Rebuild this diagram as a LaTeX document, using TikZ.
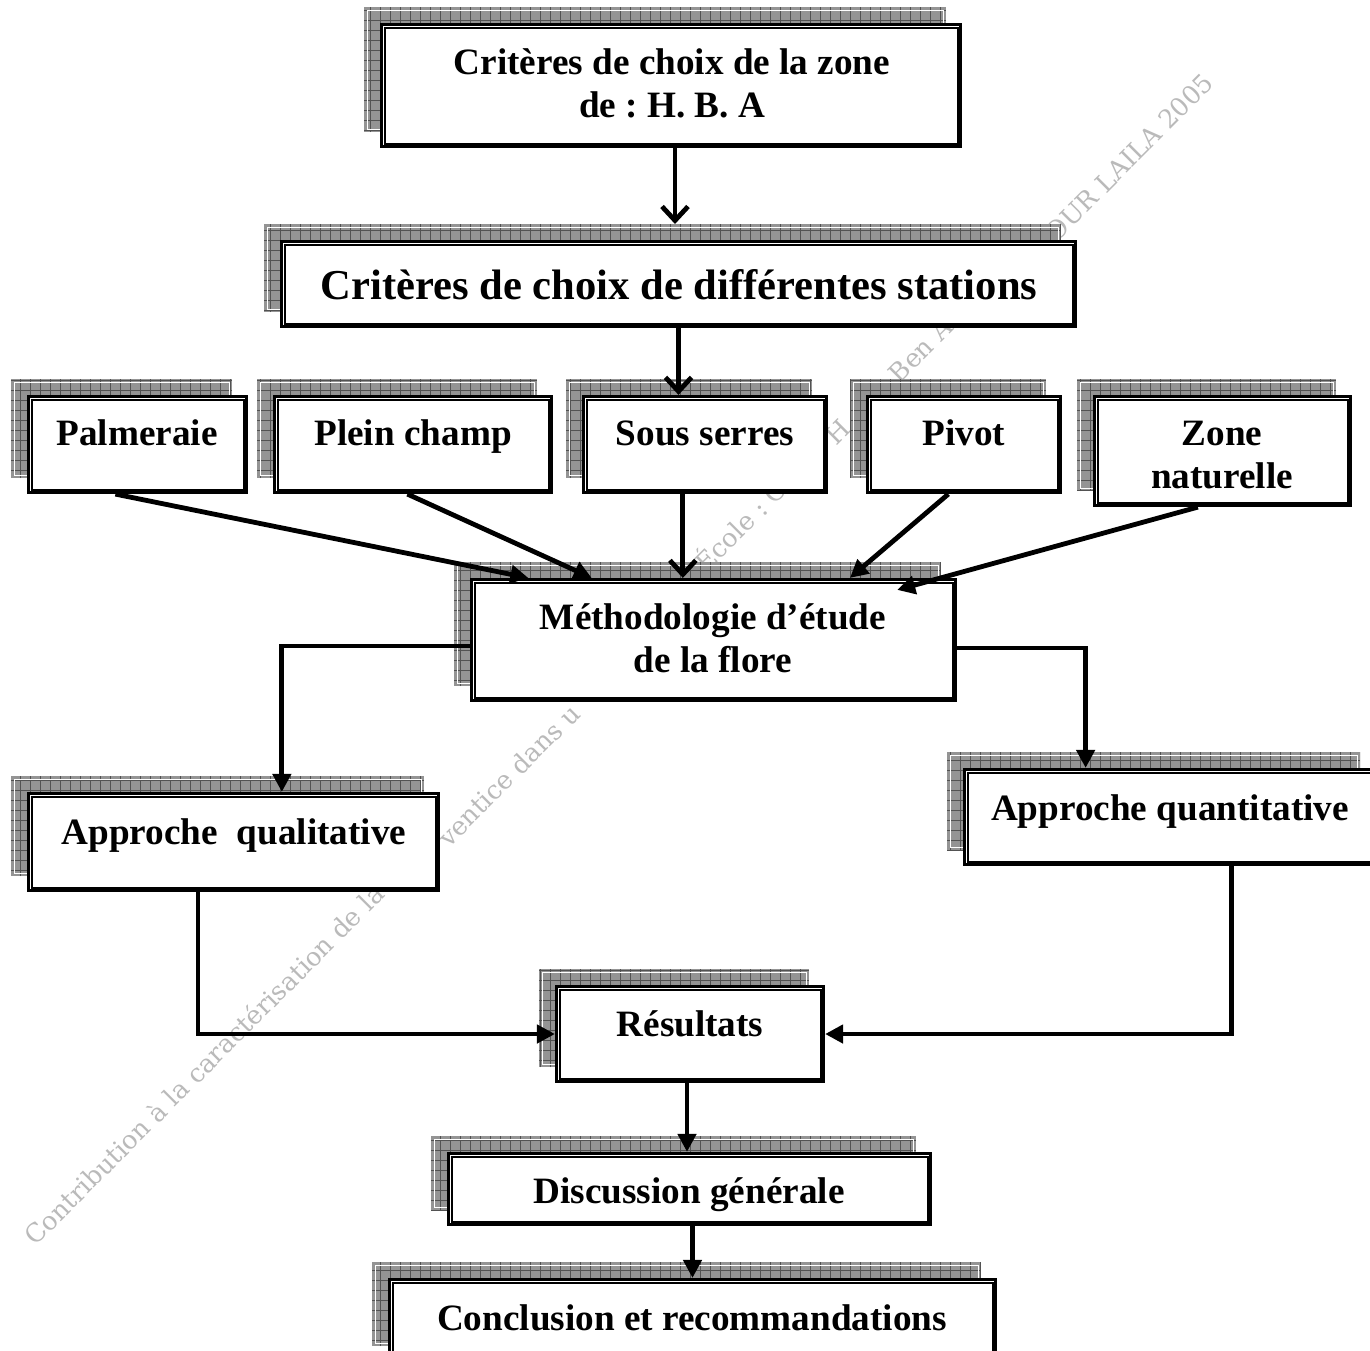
\documentclass[tikz,border=0pt]{standalone}
\usepackage{fontspec}
\setmainfont{Liberation Serif}
\newfontfamily\wmfont{DejaVu Serif}
\usetikzlibrary{arrows.meta,calc}
\frenchspacing
\tikzset{
  shadowbox/.style={fill=black!42, draw=none, inner sep=0pt, outer sep=0pt},
  gridline/.style={draw=black!68, line width=0.45pt},
  hilite/.style={draw=white, line width=0.5pt},
  outerbox/.style={draw=black, fill=white, line width=1.6pt, inner sep=0pt},
  innerline/.style={draw=black, line width=1pt},
  lbl/.style={font=\bfseries\fontsize{18.6}{21}\selectfont, inner sep=0pt, anchor=base},
  biglbl/.style={font=\bfseries\fontsize{21.3}{25}\selectfont, inner sep=0pt, anchor=base},
  wm/.style={font=\wmfont\fontsize{12.8}{15}\selectfont, text=black!27, rotate=45, inner sep=0pt, anchor=west},
  conn/.style={line width=2.4pt},
  tri/.style={conn, -{Triangle[length=9pt,width=9pt]}},
  barb/.style={conn, -{Straight Barb[length=7pt,width=13pt]}},
}
\newcommand\wbox[5]{%
  \node[shadowbox, minimum width={(#4-#2)*0.5pt}, minimum height={(#5-#3)*0.5pt}] (#1s) at ({(#2+#4)/2-16},{(#3+#5)/2-16}) {};
  \begin{scope}
    \clip (#1s.south west) rectangle (#1s.north east);
    \draw[gridline, step=5pt] (#1s.south west) grid (#1s.north east);
  \end{scope}
  \draw[hilite] ([shift={(1.5pt,-1.5pt)}]#1s.north west) rectangle ([shift={(-1.5pt,1.5pt)}]#1s.south east);
  \node[outerbox, minimum width={(#4-#2-3)*0.5pt}, minimum height={(#5-#3-3)*0.5pt}] (#1) at ({(#2+#4)/2},{(#3+#5)/2}) {};
  \draw[innerline] ([shift={(2.3pt,-2.3pt)}]#1.north west) rectangle ([shift={(-2.3pt,2.3pt)}]#1.south east);
}
\begin{document}
\begin{tikzpicture}[x=0.5pt,y=-0.5pt]
\useasboundingbox (0,0) rectangle (1370,1350);
\fill[white] (0,0) rectangle (1370,1350);

% watermark
\node[wm] (wm1) at (28,1240) {Contribution à la caractérisation de la};
\node[wm] (wm2) at (442,842) {ventice dans u};
\node[wm] (wm3) at (698,566) {École : C};
\node[wm] (wm4) at (830,440) {H};
\node[wm] (wm5) at (893,378) {Ben A};
\node[wm] (wm6) at (1034,253) {NOUR LAILA 2005};

% boxes
\wbox{b1}{380}{23}{962}{148}
\wbox{b2}{280}{240}{1077}{328}
\wbox{palm}{27}{395}{248}{494}
\wbox{plein}{273}{395}{553}{494}
\wbox{sous}{582}{395}{828}{494}
\wbox{pivot}{866}{395}{1062}{494}
\wbox{zone}{1093}{395}{1352}{507}
\wbox{meth}{470}{578}{957}{702}
\wbox{qual}{27}{792}{440}{892}
\wbox{quant}{963}{768}{1376}{866}
\wbox{res}{555}{985}{825}{1083}
\wbox{disc}{447}{1152}{932}{1226}
\wbox{conc}{388}{1278}{997}{1362}

% texts
\node[lbl] (t1a) at (672,74) {Critères de choix de la zone};
\node[lbl] (t1b) at (672,117) {de : H. B. A};
\node[biglbl] (t2) at (679,299) {Critères de choix de différentes stations};
\node[lbl] (t3) at (137,445) {Palmeraie};
\node[lbl] (t4) at (413,445) {Plein champ};
\node[lbl] (t5) at (705,445) {Sous serres};
\node[lbl] (t6) at (964,445) {Pivot};
\node[lbl] (t7a) at (1222,445) {Zone};
\node[lbl] (t7b) at (1222,488) {naturelle};
\node[lbl] (t8a) at (713,629) {Méthodologie d’étude};
\node[lbl] (t8b) at (713,672) {de la flore};
\node[lbl] (t9) at (234,844) {Approche\ \ qualitative};
\node[lbl] (t10) at (1170,820) {Approche quantitative};
\node[lbl] (t11) at (690,1036) {Résultats};
\node[lbl] (t12) at (689,1203) {Discussion générale};
\node[lbl] (t13) at (692,1330) {Conclusion et recommandations};

% connectors
\coordinate (a1) at ($(b1.south)+(4,0)$);
\draw[barb] (a1) -- (a1 |- b2s.north);
\draw[barb] (b2.south) -- (b2.south |- sous.north);

\coordinate (p1) at ($(palm.south west)!0.4!(palm.south east)$);
\coordinate (m1) at ($(meth.north west)!0.12!(meth.north east)$);
\draw[tri] (p1) -- (m1);
\coordinate (p2) at ($(plein.south west)!0.48!(plein.south east)$);
\coordinate (m2) at ($(meth.north west)!0.25!(meth.north east)$);
\draw[tri] (p2) -- (m2);
\coordinate (p3) at ($(sous.south west)!0.41!(sous.south east)$);
\draw[barb] (p3) -- (p3 |- meth.north);
\coordinate (p4) at ($(pivot.south west)!0.42!(pivot.south east)$);
\coordinate (m4) at ($(meth.north west)!0.78!(meth.north east)$);
\draw[tri] (p4) -- (m4);
\coordinate (p5) at ($(zone.south west)!0.405!(zone.south east)$);
\coordinate (m5) at ($(meth.north west)!0.877!(meth.north east)+(0,12)$);
\draw[tri] (p5) -- (m5);

\coordinate (q1) at ($(qual.north west)!0.617!(qual.north east)$);
\draw[tri] ($(meth.west)+(0,6)$) -| (q1);
\coordinate (q2) at ($(quant.north west)!0.297!(quant.north east)$);
\draw[tri] ($(meth.east)+(0,8)$) -| (q2);
\coordinate (q3) at ($(qual.south west)!0.414!(qual.south east)$);
\draw[tri] (q3) |- (res.west);
\coordinate (q4) at ($(quant.south west)!0.65!(quant.south east)$);
\draw[tri] (q4) |- (res.east);
\coordinate (a2) at ($(res.south)+(-3,0)$);
\draw[tri] (a2) -- (a2 |- disc.north);
\coordinate (a3) at ($(disc.south)+(3,0)$);
\draw[tri] (a3) -- (a3 |- conc.north);
\end{tikzpicture}
\end{document}
